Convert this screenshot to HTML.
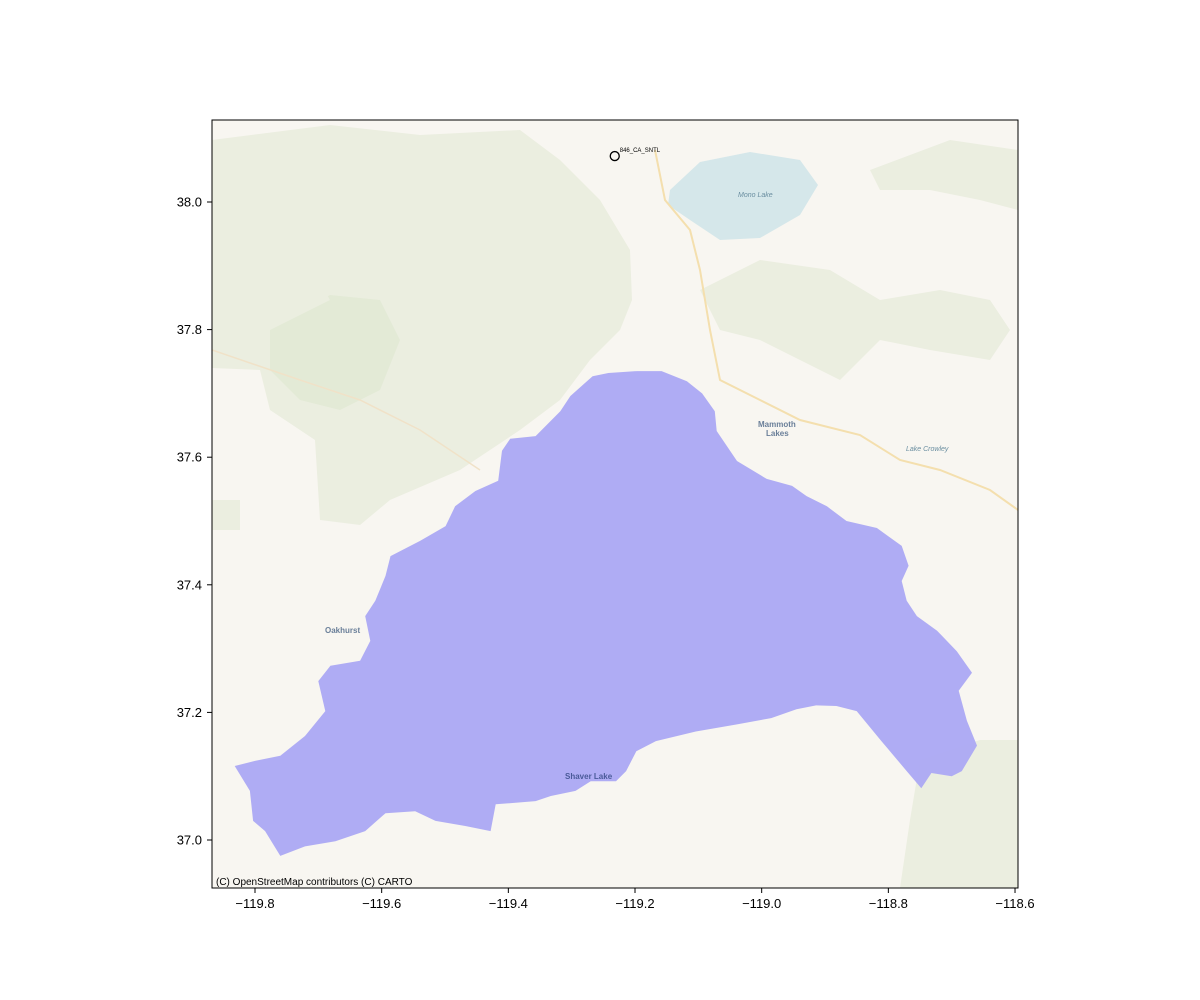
<!DOCTYPE html>
<html><head><meta charset="utf-8"><style>
body{margin:0;background:#fff;}
svg{display:block;font-family:"Liberation Sans",sans-serif;}
</style></head><body>
<svg id="chart" width="1200" height="1000" viewBox="0 0 1200 1000">
<defs><clipPath id="clip"><rect x="212" y="120" width="806" height="768"/></clipPath></defs>
<g clip-path="url(#clip)">
<rect x="212" y="120" width="806" height="768" fill="#f8f6f1"/>
<path d="M212,140 L330,125 L420,135 L520,130 L560,160 L600,200 L630,250 L632,300 L620,330 L590,360 L560,400 L520,430 L460,470 L390,500 L360,525 L320,520 L315,440 L270,410 L260,370 L212,368 Z" fill="#ebeee0"/>
<path d="M270,330 L330,295 L380,300 L400,340 L380,390 L340,410 L300,400 L270,370 Z" fill="#e3ead6"/>
<path d="M212,220 L290,230 L330,300 L270,330 L212,330 Z" fill="#ebeee0"/>
<path d="M700,290 L760,260 L830,270 L880,300 L940,290 L990,300 L1010,330 L990,360 L930,350 L880,340 L840,380 L800,360 L760,340 L720,330 Z" fill="#ebeee0"/>
<path d="M870,170 L950,140 L1018,150 L1018,210 L980,200 L930,190 L880,190 Z" fill="#ebeee0"/>
<path d="M920,760 L980,740 L1018,740 L1018,888 L900,888 L910,820 Z" fill="#ebeee0"/>
<path d="M212,500 L240,500 L240,530 L212,530 Z" fill="#ebeee0"/>
<path d="M670,190 L700,162 L750,152 L800,160 L818,185 L800,215 L760,238 L720,240 L690,220 L668,205 Z" fill="#d5e7ea"/>
<text x="738" y="197" font-size="7" fill="#6a8ea0" font-style="italic">Mono Lake</text>
<path d="M655,150 L665,200 L690,230 L700,270 L710,330 L720,380 L760,400 L800,420 L860,435 L900,460 L940,470 L990,490 L1018,510" fill="none" stroke="#f4dfae" stroke-width="2"/>
<path d="M212,350 L300,380 L360,400 L420,430 L480,470" fill="none" stroke="#f0e2c8" stroke-width="1.5"/>
<text x="758" y="427" font-size="8" font-weight="bold" fill="#6a7f99">Mammoth</text>
<text x="766" y="436" font-size="8" font-weight="bold" fill="#6a7f99">Lakes</text>
<text x="906" y="451" font-size="7" fill="#6a8ea0" font-style="italic">Lake Crowley</text>
<text x="325" y="633" font-size="8" font-weight="bold" fill="#6a7f99">Oakhurst</text>
</g>
<g id="marks" clip-path="url(#clip)"></g>
<rect x="212" y="120" width="806" height="768" fill="none" stroke="#000" stroke-width="1"/>
<text x="216" y="885" font-size="10" fill="#000">(C) OpenStreetMap contributors (C) CARTO</text>
<g id="axes"></g>
</svg>
<script>
const xTicks=[-119.8,-119.6,-119.4,-119.2,-119.0,-118.8,-118.6];
const yTicks=[37.0,37.2,37.4,37.6,37.8,38.0];
const basinLon=[-119.267,-119.242,-119.197,-119.158,-119.118,-119.094,-119.074,-119.071,-119.039,-118.992,-118.952,-118.929,-118.897,-118.866,-118.818,-118.779,-118.768,-118.779,-118.771,-118.755,-118.723,-118.692,-118.668,-118.689,-118.676,-118.660,-118.684,-118.700,-118.732,-118.748,-118.771,-118.811,-118.850,-118.882,-118.914,-118.945,-118.985,-119.040,-119.104,-119.167,-119.198,-119.214,-119.230,-119.270,-119.294,-119.333,-119.357,-119.420,-119.428,-119.468,-119.515,-119.547,-119.594,-119.626,-119.673,-119.721,-119.760,-119.784,-119.803,-119.808,-119.832,-119.800,-119.760,-119.721,-119.689,-119.700,-119.681,-119.634,-119.618,-119.626,-119.610,-119.594,-119.586,-119.539,-119.499,-119.484,-119.452,-119.416,-119.410,-119.397,-119.357,-119.318,-119.302];
const basinLat=[37.727,37.732,37.735,37.735,37.719,37.700,37.672,37.641,37.594,37.566,37.555,37.539,37.523,37.500,37.489,37.461,37.430,37.406,37.375,37.351,37.328,37.296,37.262,37.234,37.187,37.148,37.108,37.100,37.105,37.081,37.108,37.155,37.202,37.210,37.211,37.205,37.191,37.181,37.170,37.155,37.139,37.108,37.092,37.092,37.077,37.069,37.061,37.056,37.014,37.022,37.030,37.045,37.042,37.014,36.998,36.990,36.975,37.014,37.030,37.077,37.116,37.124,37.132,37.163,37.202,37.249,37.273,37.281,37.312,37.351,37.375,37.414,37.445,37.469,37.492,37.523,37.547,37.563,37.610,37.629,37.633,37.672,37.696];
const stationLon=[-119.232];
const stationLat=[38.072];
const stationNames=["846_CA_SNTL"];
const X0=255,XS=126.67/0.2,Y0=202,YS=127.6/0.2;
function sx(v){return X0+(v+119.8)*XS;}
function sy(v){return Y0-(v-38.0)*YS;}
const NS="http://www.w3.org/2000/svg";
const marks=document.getElementById('marks');
const poly=document.createElementNS(NS,'polygon');
poly.setAttribute('points',basinLon.map((v,i)=>sx(v).toFixed(1)+','+sy(basinLat[i]).toFixed(1)).join(' '));
poly.setAttribute('fill','#aca9f4');
poly.setAttribute('fill-opacity','0.97');


marks.appendChild(poly);
const sl=document.createElementNS(NS,'text');
sl.setAttribute('x',sx(-119.2)-70);sl.setAttribute('y',sy(37.1)+3);
sl.setAttribute('font-size','8');sl.setAttribute('font-weight','bold');sl.setAttribute('fill','#4a5a99');
sl.textContent='Shaver Lake';


marks.appendChild(sl);
stationLon.forEach((v,i)=>{
 const c=document.createElementNS(NS,'circle');
 c.setAttribute('cx',sx(v));c.setAttribute('cy',sy(stationLat[i]));c.setAttribute('r','4.5');
 c.setAttribute('fill','none');c.setAttribute('stroke','#000');c.setAttribute('stroke-width','1.3');
 
 
 marks.appendChild(c);
 const t=document.createElementNS(NS,'text');
 t.setAttribute('x',sx(v)+5);t.setAttribute('y',sy(stationLat[i])-4);t.setAttribute('font-size','6');
 t.textContent=stationNames[i];
 
 
 marks.appendChild(t);
});
const axes=document.getElementById('axes');
xTicks.forEach(v=>{
 const x=sx(v);
 const l=document.createElementNS(NS,'line');
 l.setAttribute('x1',x);l.setAttribute('x2',x);l.setAttribute('y1',888);l.setAttribute('y2',893);l.setAttribute('stroke','#000');
 
 
 axes.appendChild(l);
 const t=document.createElementNS(NS,'text');
 t.setAttribute('x',x);t.setAttribute('y',908);t.setAttribute('font-size','13');t.setAttribute('text-anchor','middle');
 t.textContent='\u2212'+Math.abs(v).toFixed(1);
 
 
 axes.appendChild(t);
});
yTicks.forEach(v=>{
 const y=sy(v);
 const l=document.createElementNS(NS,'line');
 l.setAttribute('x1',207);l.setAttribute('x2',212);l.setAttribute('y1',y);l.setAttribute('y2',y);l.setAttribute('stroke','#000');
 
 
 axes.appendChild(l);
 const t=document.createElementNS(NS,'text');
 t.setAttribute('x',202);t.setAttribute('y',y+4.5);t.setAttribute('font-size','13');t.setAttribute('text-anchor','end');
 t.textContent=v.toFixed(1);
 
 
 axes.appendChild(t);
});
</script>
</body></html>
